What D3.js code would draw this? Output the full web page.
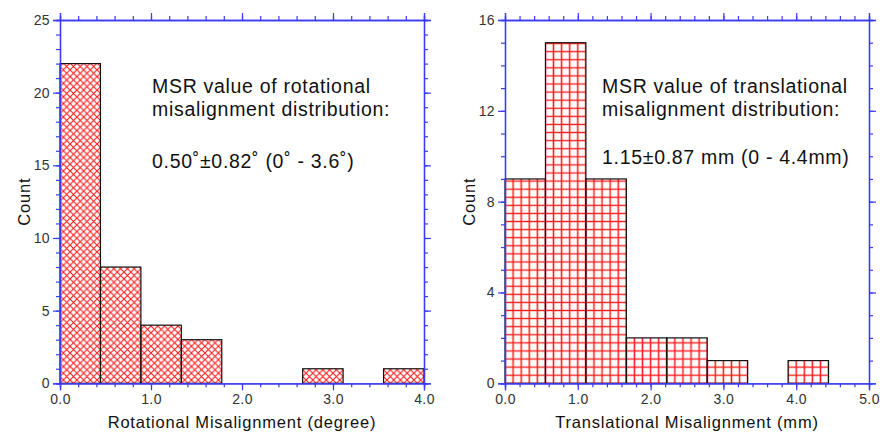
<!DOCTYPE html>
<html>
<head>
<meta charset="utf-8">
<script src="https://cdn.jsdelivr.net/npm/d3@7"></script>
<style>
  html, body { margin: 0; padding: 0; background: #fff; }
  svg { display: block; }
  text { font-family: "Liberation Sans", Arial, sans-serif; }
</style>
</head>
<body>
<svg id="chart" width="880" height="433"></svg>
<script>
// Rotational misalignment histogram (degrees): 9 equal bins over 0–4
const rotCounts = [22, 8, 4, 3, 0, 0, 1, 0, 1];
const rotRange = [0, 4];
const rotXTicks = [0, 1, 2, 3, 4];
const rotYTicks = [0, 5, 10, 15, 20, 25];
const rotYMax = 25;
const rotTitle = "Rotational Misalignment (degree)";
const rotNote = ["MSR value of rotational", "misalignment distribution:", "0.50˚±0.82˚ (0˚ - 3.6˚)"];

// Translational misalignment histogram (mm): 9 equal bins over 0–5
const transCounts = [9, 15, 9, 2, 2, 1, 0, 1, 0];
const transRange = [0, 5];
const transXTicks = [0, 1, 2, 3, 4, 5];
const transYTicks = [0, 4, 8, 12, 16];
const transYMax = 16;
const transTitle = "Translational Misalignment (mm)";
const transNote = ["MSR value of translational", "misalignment distribution:", "1.15±0.87 mm (0 - 4.4mm)"];

const AXIS = "#3b3bf5";
const TICKTXT = "#333";
const svg = d3.select("#chart");
const defs = svg.append("defs");

function panel(opt) {
  const { counts, range, xTicks, yTicks, yMax, minorX, minorY, box, title, note, notePos, thirdY, pattern, id } = opt;
  const x = d3.scaleLinear().domain(range).range([box.left, box.right]);
  const y = d3.scaleLinear().domain([0, yMax]).range([box.bottom, box.top]);
  const nb = counts.length;
  const bw = (range[1] - range[0]) / nb;
  const bins = counts.map((c, i) => ({ x0: range[0] + i * bw, x1: range[0] + (i + 1) * bw, n: c }));
  const binPx = x(bw) - x(0);

  // fill pattern; lines sit mid-tile so they are never clipped at tile edges
  const p = defs.append("pattern").attr("id", id).attr("patternUnits", "userSpaceOnUse");
  if (pattern === "cross") {
    const w = binPx / 6, h = w / 2;
    p.attr("width", w).attr("height", w).attr("x", box.left - h).attr("y", box.bottom - h);
    p.append("path").attr("d", `M0,0L${w},${w}M${w},0L0,${w}`)
      .attr("stroke", "#ff1a1a").attr("stroke-width", 1.1).attr("fill", "none");
  } else {
    const w = binPx / 5, h = w / 2;
    p.attr("width", w).attr("height", w).attr("x", box.left - h).attr("y", box.bottom - h);
    p.append("path").attr("d", `M0,${h}L${w},${h}M${h},0L${h},${w}`)
      .attr("stroke", "#ff1a1a").attr("stroke-width", 1.5).attr("fill", "none");
  }

  const g = svg.append("g");

  g.selectAll("rect.bar").data(bins.filter(b => b.n > 0)).join("rect")
    .attr("class", "bar")
    .attr("x", d => x(d.x0)).attr("width", d => x(d.x1) - x(d.x0))
    .attr("y", d => y(d.n)).attr("height", d => y(0) - y(d.n))
    .attr("fill", `url(#${id})`)
    .attr("stroke", "#111").attr("stroke-width", 1.2);

  const minorXVals = d3.range(range[0], range[1] + 1e-9, minorX);
  const minorYVals = d3.range(0, yMax + 1e-9, minorY);
  const fmtX = d3.format(".1f");

  function styleAxis(sel) {
    sel.select(".domain").attr("stroke", AXIS).attr("stroke-width", 1.3);
    sel.selectAll(".tick line").attr("stroke", AXIS).attr("stroke-width", 1.2);
    sel.selectAll(".tick text").attr("fill", TICKTXT).style("font-size", "14px")
      .style("letter-spacing", "0.4px")
      .style("font-family", "'Liberation Sans', Arial, sans-serif");
  }

  // minor ticks
  g.append("g").attr("transform", `translate(0,${box.bottom})`)
    .call(d3.axisBottom(x).tickValues(minorXVals).tickSize(4).tickFormat(""))
    .call(styleAxis);
  g.append("g").attr("transform", `translate(0,${box.top})`)
    .call(d3.axisTop(x).tickValues(minorXVals).tickSize(4).tickFormat(""))
    .call(styleAxis);
  g.append("g").attr("transform", `translate(${box.left},0)`)
    .call(d3.axisLeft(y).tickValues(minorYVals).tickSize(4).tickFormat(""))
    .call(styleAxis);
  g.append("g").attr("transform", `translate(${box.right},0)`)
    .call(d3.axisRight(y).tickValues(minorYVals).tickSize(4).tickFormat(""))
    .call(styleAxis);

  // major ticks
  g.append("g").attr("transform", `translate(0,${box.bottom})`)
    .call(d3.axisBottom(x).tickValues(xTicks).tickSize(7).tickPadding(4).tickFormat(fmtX))
    .call(styleAxis);
  g.append("g").attr("transform", `translate(0,${box.top})`)
    .call(d3.axisTop(x).tickValues(xTicks).tickSize(7).tickFormat(""))
    .call(styleAxis);
  g.append("g").attr("transform", `translate(${box.left},0)`)
    .call(d3.axisLeft(y).tickValues(yTicks).tickSize(7).tickPadding(3).tickFormat(d3.format("d")))
    .call(styleAxis);
  g.append("g").attr("transform", `translate(${box.right},0)`)
    .call(d3.axisRight(y).tickValues(yTicks).tickSize(7).tickFormat(""))
    .call(styleAxis);

  // axis titles
  g.append("text").attr("x", (box.left + box.right) / 2).attr("y", 428)
    .attr("text-anchor", "middle").attr("fill", "#111")
    .style("font-size", "16.5px").style("letter-spacing", "0.8px").text(title);
  g.append("text").attr("transform", `translate(${box.left - 30},${(box.top + box.bottom) / 2}) rotate(-90)`)
    .attr("text-anchor", "middle").attr("fill", "#111")
    .style("font-size", "16.5px").style("letter-spacing", "0.8px").text("Count");

  // annotation
  const t = g.append("g").style("font-size", "19.5px").style("letter-spacing", "0.7px").attr("fill", "#111");
  t.append("text").attr("x", notePos[0]).attr("y", notePos[1]).text(note[0]);
  t.append("text").attr("x", notePos[0]).attr("y", notePos[1] + 23).text(note[1]);
  t.append("text").attr("x", notePos[0]).attr("y", thirdY).text(note[2]);
}

panel({
  id: "hatchRot", pattern: "cross",
  counts: rotCounts, range: rotRange, xTicks: rotXTicks, yTicks: rotYTicks, yMax: rotYMax,
  minorX: 0.2, minorY: 1,
  box: { left: 60, right: 424, top: 20, bottom: 383.3 },
  title: rotTitle, note: rotNote, notePos: [152, 93.3], thirdY: 168.3
});

panel({
  id: "gridTrans", pattern: "grid",
  counts: transCounts, range: transRange, xTicks: transXTicks, yTicks: transYTicks, yMax: transYMax,
  minorX: 0.2, minorY: 1,
  box: { left: 505, right: 869, top: 20, bottom: 383.3 },
  title: transTitle, note: transNote, notePos: [602, 92.7], thirdY: 164
});
</script>
</body>
</html>
